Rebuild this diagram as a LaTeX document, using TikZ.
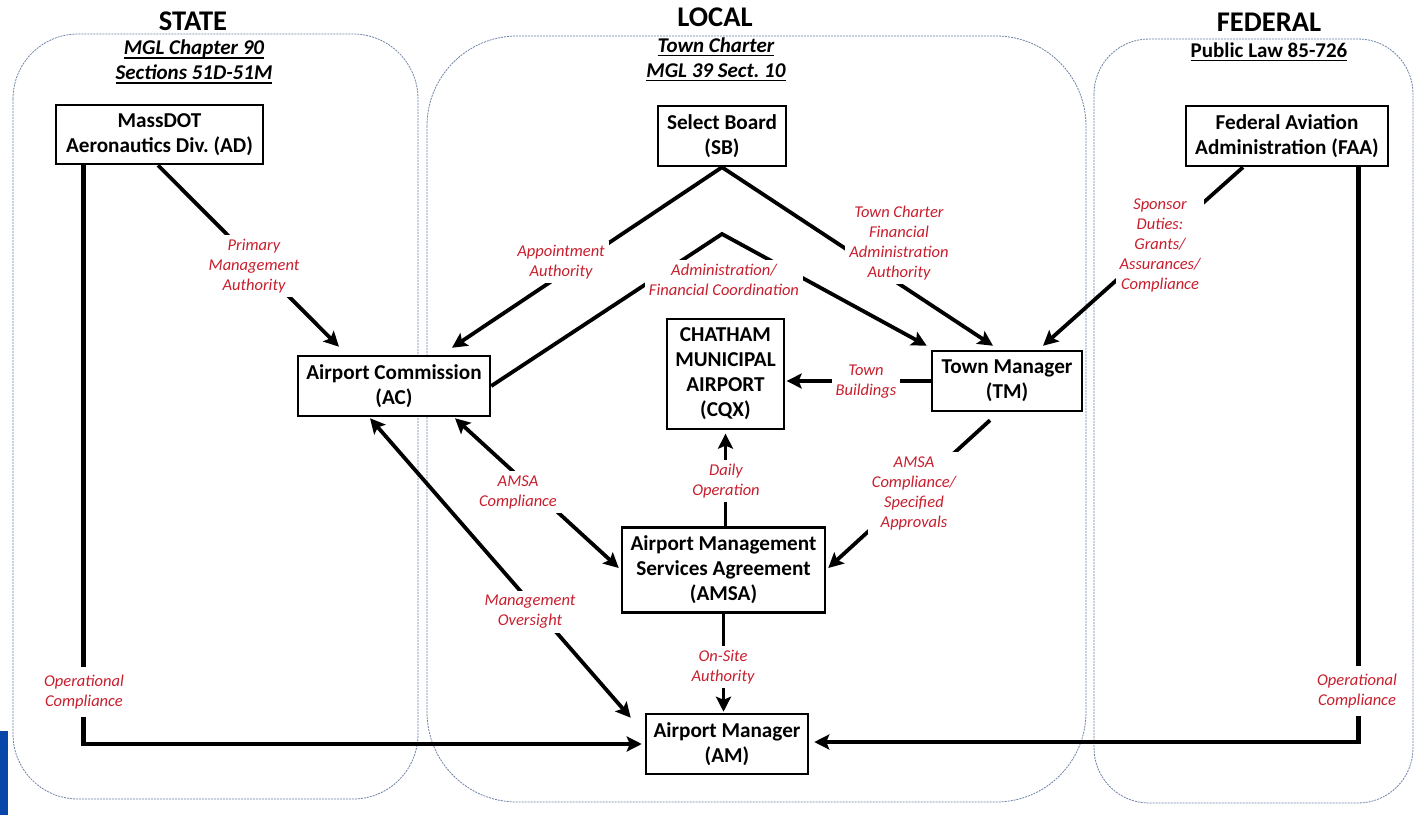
\documentclass[tikz,border=0pt]{standalone}
\usepackage{fontspec}
\setmainfont{Carlito}
\usetikzlibrary{arrows.meta,calc}
\definecolor{lblred}{RGB}{200,30,45}
\definecolor{framecol}{RGB}{110,130,165}
\definecolor{barblue}{RGB}{8,70,170}
\newcommand\myuline[1]{\setbox0\hbox{#1}\leavevmode\rlap{\rule[-4pt]{\wd0}{1.5pt}}\box0}
\frenchspacing
\begin{document}
\begin{tikzpicture}[x=1pt,y=-1pt,
  >={Stealth[length=15pt,width=15pt,inset=3pt]},
  box/.style={draw=black, line width=2.5pt, fill=white, align=center, inner sep=0pt,
    font=\bfseries\fontsize{21.2}{25}\selectfont},
  lbl/.style={fill=white, text=lblred, align=center, inner sep=4pt,
    font=\itshape\fontsize{16.5}{20}\selectfont},
  conn/.style={line width=3.8pt},
  thickconn/.style={line width=4.8pt},
  region/.style={draw=framecol, line width=0.8pt, dash pattern=on 2pt off 1pt},
  header/.style={font=\bfseries\fontsize{28.5}{32}\selectfont},
  subhead/.style={align=center, font=\bfseries\itshape\fontsize{21}{25}\selectfont},
]
\useasboundingbox (0,0) rectangle (1416,824);
\fill[white] (0,0) rectangle (1416,824);
\fill[barblue] (0,731) rectangle (8,815);

% regions
\draw[region, rounded corners=65pt] (13,34) rectangle (418,799);
\draw[region, rounded corners=90pt] (427,36) rectangle (1086,802);
\draw[region, rounded corners=55pt] (1094,39) rectangle (1413,803);

% headers
\node[header] (hstate) at (193,21) {STATE};
\node[header] (hlocal) at (715,17) {LOCAL};
\node[header] (hfed) at (1269,22) {FEDERAL};
\node[subhead] (sstate) at (194,62) {\myuline{MGL Chapter 90}\\\myuline{Sections 51D-51M}};
\node[subhead] (slocal) at (716,59.5) {\myuline{Town Charter}\\\myuline{MGL 39 Sect. 10}};
\node[align=center, font=\bfseries\fontsize{21}{25}\selectfont] (sfed) at (1269,52) {\myuline{Public Law 85-726}};

% boxes
\node[box, minimum width=207pt, minimum height=59pt] (AD) at (159.5,134.5) {MassDOT\\Aeronautics Div. (AD)};
\node[box, minimum width=128pt, minimum height=60pt] (SB) at (722,136) {Select Board\\(SB)};
\node[box, minimum width=202pt, minimum height=60pt] (FAA) at (1287,136) {Federal Aviation\\Administration (FAA)};
\node[box, minimum width=192pt, minimum height=60pt] (AC) at (394,386) {Airport Commission\\(AC)};
\node[box, line width=1.3pt, minimum width=117pt, minimum height=110pt] (CQX) at (725.5,374) {CHATHAM\\MUNICIPAL\\AIRPORT\\(CQX)};
\node[box, minimum width=150pt, minimum height=60pt] (TM) at (1007,381) {Town Manager\\(TM)};
\node[box, minimum width=203pt, minimum height=85pt] (AMSA) at (723.5,570) {Airport Management\\Services Agreement\\(AMSA)};
\node[box, minimum width=162pt, minimum height=60pt] (AM) at (727,744) {Airport Manager\\(AM)};

\coordinate (peak) at (722,234);

% connectors
\draw[conn,->] ($(AD.south)+(-1.5,0)$) -- ($(AC.north)+(-55,-8)$);
\draw[thickconn,->] ($(AD.south west)+(29,0)$) |- ($(AM.west)+(-3,0)$);
\draw[conn,->] (SB.south) -- ($(AC.north)+(58,-7)$);
\draw[conn,->] (SB.south) -- ($(TM.north)+(-14,-4)$);
\draw[conn,->] (AC.east) -- (peak) -- ($(TM.north west)+(-4,-4)$);
\draw[conn,->] ($(FAA.south)+(-44,0)$) -- ($(TM.north)+(36,-4)$);
\draw[thickconn,->] ($(FAA.south east)+(-31,0)$) |- ($(AM.east)+(5,-2)$);
\draw[conn,->] (TM.west) -- ($(TM.west -| CQX.east)+(2,0)$);
\draw[conn,->] ($(TM.south)+(-17,8)$) -- ($(AMSA.east)+(2,-2)$);
\draw[conn,->,shorten >=4pt] ($(AMSA.north)+(2,0)$) -- ($(CQX.south)+(0,0)$);
\draw[conn,<->] ($(AC.south)+(61,1)$) -- ($(AMSA.west)+(-2,-2)$);
\draw[conn,<->] ($(AC.south)+(-24,1)$) -- ($(AM.north west)+(-14,5)$);
\draw[conn,->,shorten >=1pt] (AMSA.south) -- (AMSA.south |- AM.north);

% labels
\node[lbl] (l1) at (254,266) {Primary\\Management\\Authority};
\node[lbl, inner ysep=8pt] (l2) at (84,692) {Operational\\Compliance};
\node[lbl] (l3) at (561,262) {Appointment\\Authority};
\node[lbl] (l4) at (899,243) {Town Charter\\Financial\\Administration\\Authority};
\node[lbl] (l5) at (724,280) {Administration/\\Financial Coordination};
\node[lbl] (l6) at (1160,245) {Sponsor\\Duties:\\Grants/\\Assurances/\\Compliance};
\node[lbl, inner ysep=8pt] (l7) at (1357,691) {Operational\\Compliance};
\node[lbl] (l8) at (866,382) {Town\\Buildings};
\node[lbl] (l9) at (914,493) {AMSA\\Compliance/\\Specified\\Approvals};
\node[lbl] (l10) at (726,481) {Daily\\Operation};
\node[lbl] (l11) at (518,492) {AMSA\\Compliance};
\node[lbl] (l12) at (530,612) {Management\\Oversight};
\node[lbl] (l13) at (723,667) {On-Site\\Authority};
\end{tikzpicture}
\end{document}
